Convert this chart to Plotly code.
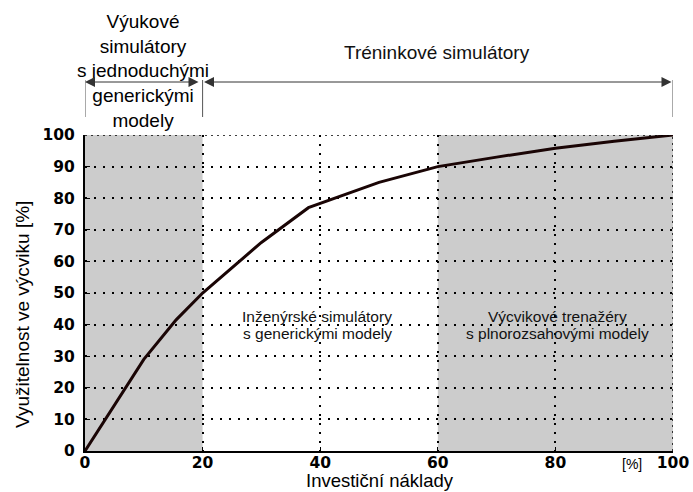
import plotly.graph_objects as go

# Data
invest = [0, 10, 15.5, 20, 30, 38, 50, 60, 70, 80, 90, 100]
usage = [0, 29, 41.5, 50, 66, 77, 85, 90, 93, 95.8, 98, 100]
x_ticks = [0, 20, 40, 60, 80, 100]
y_ticks = [0, 10, 20, 30, 40, 50, 60, 70, 80, 90, 100]
shaded_ranges = [(0, 20), (60, 100)]

W, H = 693, 492
L, R, T, B = 85, 20, 135, 41
PW, PH = W - L - R, H - T - B


def px_x(p):
    return (p - L) / PW


def px_y(p):
    return (H - B - p) / PH


fig = go.Figure()
fig.add_trace(go.Scatter(x=invest, y=usage, mode="lines",
                         line=dict(color="#1a0505", width=3), hoverinfo="skip",
                         showlegend=False))

shapes = []
for a, b in shaded_ranges:
    shapes.append(dict(type="rect", xref="x", yref="y", x0=a, x1=b, y0=0, y1=100,
                       fillcolor="#cccccc", line=dict(width=0), layer="below"))
shapes.append(dict(type="line", xref="x", yref="y", x0=0, x1=100, y0=100, y1=100,
                   line=dict(color="black", width=1.5, dash="2px,4px")))
shapes.append(dict(type="line", xref="x", yref="y", x0=100, x1=100, y0=0, y1=100,
                   line=dict(color="black", width=1.5, dash="2px,4px")))
for xv in [0, 20, 100]:
    shapes.append(dict(type="line", xref="x", yref="paper", x0=xv, x1=xv,
                       y0=px_y(117), y1=px_y(80),
                       line=dict(color="#555555", width=1)))

ann = []
font_main = "Liberation Sans, Arial, sans-serif"
ann.append(dict(x=px_x(143), y=px_y(71), xref="paper", yref="paper",
                text="Výukové<br>simulátory<br>s jednoduchými<br>generickými<br>modely",
                showarrow=False, font=dict(family=font_main, size=19, color="black"),
                xanchor="center", yanchor="middle", align="center"))
ann.append(dict(x=px_x(437), y=px_y(53), xref="paper", yref="paper",
                text="Tréninkové simulátory", showarrow=False,
                font=dict(family=font_main, size=19, color="#111111"),
                xanchor="center", yanchor="middle"))
ann.append(dict(x=px_x(85), y=px_y(82), xref="paper", yref="paper", text="",
                ax=115, ay=0, showarrow=True, arrowhead=2, arrowside="end+start",
                arrowsize=2, arrowwidth=1, arrowcolor="#333333"))
ann.append(dict(x=px_x(204), y=px_y(82), xref="paper", yref="paper", text="",
                ax=469, ay=0, showarrow=True, arrowhead=2, arrowside="end+start",
                arrowsize=2, arrowwidth=1, arrowcolor="#333333"))

inner_lines = [
    (317, 316, "Inženýrské simulátory"),
    (317, 333, "s generickými modely"),
    (557, 316, "Výcvikové trenažéry"),
    (557, 333, "s plnorozsahovými modely"),
]
for cx, cy, txt in inner_lines:
    ann.append(dict(x=px_x(cx), y=px_y(cy), xref="paper", yref="paper",
                    text=txt, showarrow=False,
                    font=dict(family=font_main, size=15.5, color="#111111"),
                    xanchor="center", yanchor="middle"))

ann.append(dict(x=px_x(22), y=px_y(315), xref="paper", yref="paper",
                text="Využitelnost ve výcviku [%]", showarrow=False, textangle=-90,
                font=dict(family=font_main, size=19, color="black"),
                xanchor="center", yanchor="middle"))
ann.append(dict(x=px_x(380), y=px_y(480), xref="paper", yref="paper",
                text="Investiční náklady", showarrow=False,
                font=dict(family=font_main, size=18.5, color="black"),
                xanchor="center", yanchor="middle"))
ann.append(dict(x=px_x(632), y=px_y(464), xref="paper", yref="paper",
                text="[%]", showarrow=False,
                font=dict(family=font_main, size=14, color="black"),
                xanchor="center", yanchor="middle"))

tickfont = dict(family="DejaVu Sans, sans-serif", size=15.5, color="black", weight="bold")
fig.update_layout(
    width=W, height=H,
    margin=dict(l=L, r=R, t=T, b=B, autoexpand=False),
    paper_bgcolor="white", plot_bgcolor="white",
    shapes=shapes, annotations=ann,
    xaxis=dict(range=[0, 100], tickvals=x_ticks, ticktext=[str(v) for v in x_ticks],
               showgrid=True, gridcolor="black", gridwidth=1.5, griddash="2px,7px",
               showline=True, linecolor="black", linewidth=2, zeroline=False,
               ticks="inside", ticklen=4, tickcolor="black", tickfont=tickfont,
               ticklabelstandoff=-4, automargin=False, fixedrange=True),
    yaxis=dict(range=[0, 100], tickvals=y_ticks, ticktext=[str(v) for v in y_ticks],
               showgrid=True, gridcolor="black", gridwidth=1.5, griddash="2px,7px",
               showline=True, linecolor="black", linewidth=2, zeroline=False,
               ticks="inside", ticklen=5, tickcolor="black", tickfont=tickfont,
               ticklabelstandoff=5, automargin=False, fixedrange=True),
)

fig.write_html("out.html", config={"displayModeBar": False},
               post_script="document.body.style.margin='0';document.body.style.overflow='hidden';")
